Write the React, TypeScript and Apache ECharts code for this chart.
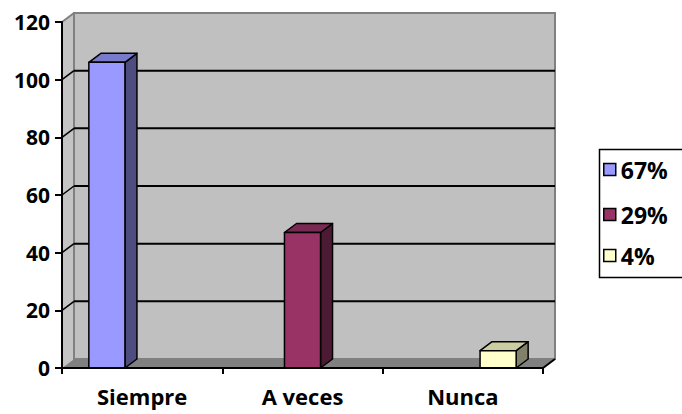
import React, { useEffect, useRef } from "react";
import * as echarts from "echarts";

const categories = ["Siempre", "A veces", "Nunca"];
const values = [106, 47, 6];
const legendLabels = ["67%", "29%", "4%"];
const gridTickValues = [20, 40, 60, 80, 100];
const frontColors = ["#9999ff", "#993366", "#ffffcc"];
const sideColors = ["#4d4d80", "#4d1a33", "#80806b"];
const topColors = ["#7a7acc", "#7a2952", "#cccca3"];

const DX = 12;
const DY = -9;
const FONT = "Open Sans";

export default function App() {
  const ref = useRef<HTMLDivElement>(null);
  useEffect(() => {
    if (!ref.current) return;
    const chart = echarts.init(ref.current, undefined, { renderer: "svg" });

    const wallSeries: any = {
      type: "custom",
      name: "walls",
      z: 1,
      silent: true,
      data: [[0, 0]],
      renderItem: (params: any, api: any) => {
        const cs = params.coordSys;
        const x0 = cs.x, x1 = cs.x + cs.width, yT = cs.y, yB = cs.y + cs.height;
        const children: any[] = [];
        children.push({
          type: "polygon",
          shape: { points: [[x0, yB], [x0 + DX, yB + DY], [x0 + DX, yT + DY], [x0, yT]] },
          style: { fill: "#c4c4c4", stroke: "none" },
        });
        children.push({
          type: "rect",
          shape: { x: x0 + DX, y: yT + DY, width: x1 - x0, height: yB - yT },
          style: { fill: "#c0c0c0", stroke: "#808080", lineWidth: 2 },
        });
        children.push({
          type: "polygon",
          shape: { points: [[x0, yB], [x1, yB], [x1 + DX, yB + DY], [x0 + DX, yB + DY]] },
          style: { fill: "#808080", stroke: "none" },
        });
        children.push({
          type: "line",
          shape: { x1: x0, y1: yT, x2: x0 + DX, y2: yT + DY },
          style: { stroke: "#808080", lineWidth: 2 },
        });
        children.push({
          type: "line",
          shape: { x1: x1, y1: yB, x2: x1 + DX, y2: yB + DY },
          style: { stroke: "#000", lineWidth: 2 },
        });
        gridTickValues.forEach((v) => {
          const y = api.coord([0, v])[1];
          children.push({
            type: "line",
            shape: { x1: x0 + DX, y1: y + DY, x2: x1 + DX, y2: y + DY },
            style: { stroke: "#000", lineWidth: 2 },
          });
          children.push({
            type: "line",
            shape: { x1: x0, y1: y, x2: x0 + DX, y2: y + DY },
            style: { stroke: "#000", lineWidth: 1.5 },
          });
        });
        return { type: "group", children };
      },
    };

    const barSeries = categories.map((_, i) => ({
      type: "custom",
      name: legendLabels[i],
      z: 3,
      itemStyle: { color: frontColors[i] },
      data: [[i, values[i]]],
      renderItem: (params: any, api: any) => {
        const idx = api.value(0);
        const v = api.value(1);
        const base = api.coord([idx, 0]);
        const top = api.coord([idx, v]);
        const band = api.size([1, 0])[0];
        const w = band * 0.225;
        const cx = base[0] + (idx - 1) * band * 0.22;
        const xl = cx - w / 2, xr = cx + w / 2;
        const yb = base[1], yt = top[1];
        const stroke = { stroke: "#000", lineWidth: 1.5, lineJoin: "round" };
        return {
          type: "group",
          children: [
            {
              type: "polygon",
              shape: { points: [[xr, yb], [xr + DX, yb + DY], [xr + DX, yt + DY], [xr, yt]] },
              style: { fill: sideColors[idx], ...stroke },
            },
            {
              type: "polygon",
              shape: { points: [[xl, yt], [xl + DX, yt + DY], [xr + DX, yt + DY], [xr, yt]] },
              style: { fill: topColors[idx], ...stroke },
            },
            {
              type: "rect",
              shape: { x: xl, y: yt, width: w, height: yb - yt },
              style: { fill: frontColors[idx], ...stroke },
            },
          ],
        };
      },
    }));

    const legendCenters = [170, 215, 256];
    const option: any = {
      animation: false,
      backgroundColor: "#fff",
      grid: { left: 62, right: 139, top: 22, bottom: 46, containLabel: false },
      xAxis: {
        type: "category",
        data: categories,
        axisLine: { lineStyle: { color: "#000", width: 2 } },
        axisTick: { show: true, length: 6, lineStyle: { color: "#000", width: 2 } },
        axisLabel: { color: "#000", fontFamily: FONT, fontWeight: "bold", fontSize: 22, margin: 17 },
        z: 4,
      },
      yAxis: {
        type: "value",
        min: 0,
        max: 120,
        interval: 20,
        axisLine: { show: true, lineStyle: { color: "#000", width: 2 } },
        axisTick: { show: true, length: 7, lineStyle: { color: "#000", width: 2 } },
        splitLine: { show: false },
        axisLabel: { color: "#000", fontFamily: FONT, fontWeight: "bold", fontSize: 21, margin: 12 },
        z: 4,
      },
      legend: legendLabels.map((name, i) => ({
        data: [name],
        left: 603,
        top: legendCenters[i] - 12,
        padding: 0,
        itemWidth: 12,
        itemHeight: 12,
        icon: "rect",
        selectedMode: false,
        itemStyle: { borderColor: "#000", borderWidth: 1.5 },
        textStyle: { color: "#000", fontFamily: FONT, fontWeight: "bold", fontSize: 23 },
      })),
      graphic: [
        {
          type: "rect",
          left: 597,
          top: 147,
          shape: { width: 84, height: 128 },
          style: { fill: "none", stroke: "#000", lineWidth: 1.5 },
        },
      ],
      series: [wallSeries, ...barSeries],
    };
    chart.setOption(option);
    return () => chart.dispose();
  }, []);
  return (
    <div
      ref={ref}
      style={{ position: "fixed", left: 0, top: 0, width: 682, height: 414, background: "#fff" }}
    />
  );
}
